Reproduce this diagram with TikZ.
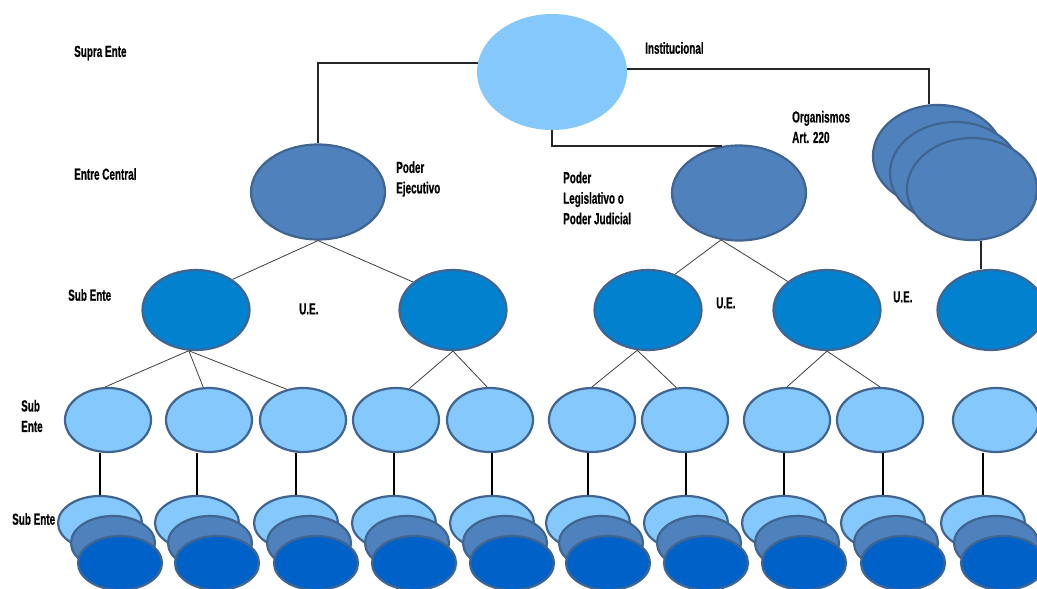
\documentclass[tikz,border=0pt]{standalone}
\usepackage{fontspec}
\setmainfont{Liberation Sans}[FakeStretch=0.62, BoldFeatures={FakeBold=0.6}]
\usepackage{xcolor}
\usepackage{tikz}
\usetikzlibrary{shapes.geometric}
\definecolor{celeste}{HTML}{85C8FB}
\definecolor{acero}{HTML}{4F81BD}
\definecolor{azulue}{HTML}{0281CF}
\definecolor{azulosc}{HTML}{0062C9}
\definecolor{borde}{HTML}{3F6590}
\newcommand{\lblfont}{\fontsize{16}{20.5}\selectfont\bfseries}

\begin{document}
\begin{tikzpicture}[
    x=1pt, y=-1pt,
    ente/.style={ellipse, inner sep=0pt, draw=borde, line width=2.2pt},
    supra/.style={ellipse, inner sep=0pt, fill=celeste, minimum width=150, minimum height=116},
    central/.style={ente, fill=acero, minimum width=134, minimum height=95},
    organ/.style={ente, fill=acero, minimum width=130, minimum height=102},
    uexec/.style={ente, fill=azulue, minimum width=107, minimum height=80},
    subent/.style={ente, fill=celeste, minimum width=86, minimum height=64},
    stackA/.style={ente, fill=celeste, minimum width=84, minimum height=54},
    stackB/.style={ente, fill=acero, minimum width=84, minimum height=54},
    stackC/.style={ente, fill=azulosc, minimum width=84, minimum height=54},
    toplink/.style={line width=1.8pt, black!85},
    link/.style={line width=0.8pt, black!75},
    vlink/.style={line width=2pt, black},
    lbl/.style={font=\lblfont, inner sep=0pt, anchor=west, align=left},
]
\clip (0,0) rectangle (1037,589);
\fill[white] (0,0) rectangle (1037,589);

% Supra ente
\node[supra] (supra) at (552,72) {};

% Entes centrales
\node[central] (ejec) at (318,192) {};
\node[central] (leg) at (739,193) {};
\node[organ] (org1) at (938,156) {};
\node[organ] (org2) at (955,173) {};
\node[organ] (org3) at (972,189) {};

% Unidades ejecutoras
\node[uexec] (ue1) at (196,310) {};
\node[uexec] (ue2) at (453,310) {};
\node[uexec] (ue3) at (648,310) {};
\node[uexec] (ue4) at (827,310) {};
\node[uexec] (ue5) at (991,310) {};

% Sub entes
\foreach \x [count=\i] in {108,209,303,396,490,592,685,787,880,996}
  \node[subent] (r\i) at (\x,420) {};

% Sub entes apilados
\foreach \x [count=\i] in {100,197,296,394,492,588,686,784,883,983} {
  \node[stackA] (s\i a) at (\x,523) {};
  \node[stackB] (s\i b) at (\x+13,543) {};
  \node[stackC] (s\i c) at (\x+20,563) {};
  \draw[vlink] (s\i a.north) -- (s\i a.north |- r\i.south);
}

% Conectores
\draw[toplink] (supra.173) -| (ejec.north);
\draw[toplink] (supra.2) -| (org1.100);
\draw[toplink] (supra.south) |- (leg.110);
\draw[toplink] (org3.-80) -- (org3.-80 |- ue5.north);
\draw[link] (ejec.south) -- (ue1.40);
\draw[link] (ejec.south) -- (ue2.145);
\draw[link] (leg.249) -- (ue3.53);
\draw[link] (leg.249) -- (ue4.144);
\draw[link] (ue1.260) -- (r1.95);
\draw[link] (ue1.260) -- (r2.100);
\draw[link] (ue1.260) -- (r3.118);
\draw[link] (ue2.south) -- (r4.67);
\draw[link] (ue2.south) -- (r5.95);
\draw[link] (ue3.255) -- (r6.north);
\draw[link] (ue3.255) -- (r7.105);
\draw[link] (ue4.south) -- (r8.north);
\draw[link] (ue4.south) -- (r9.north);

% Etiquetas
\node[lbl] (lsupra) at (74,53) {Supra Ente};
\node[lbl] (lcentral) at (74,174) {Entre Central};
\node[lbl] (lejec) at (396,179) {Poder\\Ejecutivo};
\node[lbl] (linst) at (645,48) {Institucional};
\node[lbl] (lorg) at (792,127) {Organismos\\Art. 220};
\node[lbl] (lleg) at (563,198) {Poder\\Legislativo o\\Poder Judicial};
\node[lbl] (lsub) at (68,295) {Sub Ente};
\node[lbl] (lue1) at (299,309) {U.E.};
\node[lbl] (lue2) at (716,303) {U.E.};
\node[lbl] (lue3) at (893,297) {U.E.};
\node[lbl] (lsub2) at (21,416) {Sub\\Ente};
\node[lbl] (lsub3) at (12,519) {Sub Ente};
\end{tikzpicture}
\end{document}
